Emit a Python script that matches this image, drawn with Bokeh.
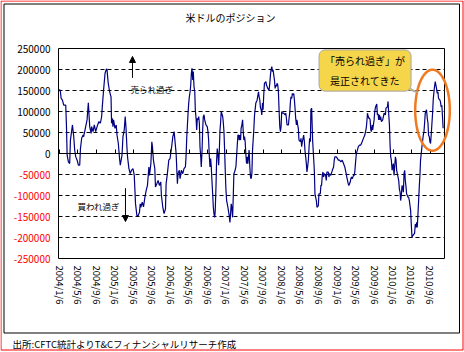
import numpy as np
import pandas as pd
from bokeh.plotting import figure
from bokeh.models import (FixedTicker, Label, Arrow, NormalHead, BoxAnnotation,
                          PolyAnnotation, Range1d, LinearAxis)
from bokeh.embed import file_html
from bokeh.resources import INLINE

# ---------------- data ----------------
start_date = "2004/1/6"
# week number since 2004/1/6
weeks = [0, 0.8, 1.5, 2.7, 3.9, 5.8, 6.5, 7.1, 8.3, 9.5, 10.2, 12.1, 13.3, 14.2, 15.2, 16.5, 17.7, 18.9,
         19.6, 20.8, 22.1, 22.6, 23.9, 25.8, 27.0, 28.3, 29.6, 30.1, 31.4, 32.6, 33.9, 35.7, 37.0, 38.3,
         39.5, 40.1, 41.3, 42.7, 43.9, 44.5, 45.1, 45.7, 47.0, 48.3, 48.8, 49.5, 50.1, 50.7, 52.0, 53.2,
         53.9, 55.1, 55.8, 56.3, 57.0, 58.6, 59.5, 60.7, 61.6, 62.3, 63.2, 63.8, 65.1, 66.3, 67.5, 68.9,
         70.1, 71.3, 72.6, 73.8, 75.0, 75.7, 76.3, 77.6, 78.8, 80.1, 81.3, 82.5, 83.8, 84.4, 85.7, 86.6,
         87.2, 88.1, 89.4, 90.0, 91.3, 92.5, 93.7, 95.0, 95.6, 96.9, 98.1, 99.4, 100.0, 101.2, 102.5,
         103.7, 105.0, 106.3, 107.5, 108.1, 109.4, 110.6, 111.2, 112.4, 113.1, 114.3, 115.6, 116.8,
         118.1, 118.7, 119.4, 120.6, 121.2, 121.8, 122.5, 123.1, 123.7, 124.3, 125.0, 125.5, 126.2,
         126.9, 127.4, 128.1, 128.7, 129.3, 129.9, 130.6, 131.2, 131.8, 132.5, 133.0, 133.7, 134.3,
         134.9, 135.6, 136.2, 137.4, 138.6, 139.3, 139.9, 140.5, 141.2, 141.8, 142.4, 143.0, 143.7,
         144.3, 144.9, 145.6, 146.1, 146.8, 147.4, 148.0, 148.7, 149.3, 149.9, 150.5, 151.2, 151.7,
         153.1, 153.6, 154.3, 154.9, 155.5, 156.1, 156.8, 158.0, 159.2, 159.9, 160.5, 161.1, 161.7,
         162.4, 163.0, 163.6, 164.3, 165.5, 166.7, 167.4, 168.0, 168.6, 169.2, 169.9, 170.4, 171.1,
         171.8, 172.3, 173.0, 173.6, 174.2, 174.8, 175.5, 176.1, 176.7, 177.9, 178.6, 179.2, 179.8,
         180.5, 181.1, 181.7, 182.3, 183.0, 184.2, 185.4, 186.7, 187.3, 187.9, 188.6, 189.2, 189.8,
         190.5, 191.0, 191.7, 192.3, 193.6, 194.2, 195.4, 196.6, 197.3, 197.9, 198.5, 199.2, 199.8,
         200.4, 201.0, 201.7, 202.3, 202.9, 203.5, 204.1, 204.8, 205.4, 206.0, 206.7, 207.3, 207.9,
         208.5, 209.2, 210.4, 211.6, 212.3, 212.9, 213.5, 214.8, 215.4, 216.0, 216.7, 217.2, 217.9,
         218.5, 219.1, 219.8, 220.4, 221.0, 221.6, 222.3, 222.8, 223.5, 224.1, 224.7, 226.0, 226.6,
         227.2, 227.9, 228.5, 229.1, 229.8, 230.3, 231.0, 231.6, 232.2, 232.8, 233.5, 234.1, 234.7,
         235.4, 235.9, 236.6, 237.5, 239.1, 239.7, 241.0, 241.6, 242.9, 243.4, 244.7, 245.3, 245.9,
         246.6, 247.2, 247.8, 248.5, 249.7, 250.3, 250.9, 252.2, 252.8, 253.4, 254.6, 256.0, 257.2,
         257.8, 258.4, 259.7, 260.9, 261.6, 262.8, 264.0, 265.3, 266.5, 267.7, 269.0, 269.6, 270.9,
         271.5, 272.8, 273.4, 274.0, 274.7, 275.9, 276.5, 277.1, 277.7, 278.4, 279.0, 279.6, 280.3,
         281.5, 282.7, 284.0, 285.2, 286.5, 287.8, 288.3, 289.0, 289.7, 290.2, 290.9, 291.5, 292.1,
         292.7, 293.4, 293.9, 295.2, 295.8, 296.5, 297.7, 298.3, 299.0, 299.5, 300.2, 300.9, 301.4,
         302.1, 303.3, 304.6, 305.8, 306.4, 307.7, 308.3, 308.9, 309.6, 310.2, 310.8, 311.4, 312.1,
         312.6, 313.3, 313.9, 314.5, 315.2, 315.8, 316.4, 317.0, 318.3, 318.9, 319.6, 320.1, 320.8,
         321.4, 322.0, 322.7, 323.3, 323.9, 324.5, 325.2, 325.7, 326.4, 327.0, 327.6, 328.3, 328.9,
         329.5, 330.1, 330.8, 331.3, 332.0, 333.2, 333.9, 334.5, 335.1, 335.7, 336.4, 337.0, 337.6,
         338.3, 338.8, 340.1, 341.4, 342.0, 342.6, 343.2, 344.4, 345.1, 345.8, 346.3, 347.0, 347.6,
         348.2, 348.8, 349.5, 350.1, 350.7, 351.4, 351.9, 352.6, 353.2, 353.8, 354.5, 355.1, 355.7,
         357.0, 357.5, 358.2, 358.8, 359.4, 360.0]
positions = [153000, 147000, 131000, 127000, 115000, 115000, 64000, -4000, -20000, -24000, 32000, 68000,
             40000, 8000, -8000, -16000, -28000, -28000, 12000, 37000, 44000, 40000, 56000, 80000, 121000,
             64000, 48000, 64000, 52000, 68000, 52000, 68000, 76000, 72000, 88000, 111000, 151000, 191000,
             201000, 201000, 183000, 167000, 147000, 135000, 72000, 84000, 64000, 80000, 60000, 68000,
             44000, 25000, 4000, -12000, -28000, -4000, 40000, 56000, 88000, 64000, 16000, -8000, -36000,
             -48000, -40000, -36000, -52000, -120000, -148000, -148000, -140000, -120000, -128000,
             -116000, -127000, -104000, -88000, -76000, -32000, -52000, -24000, 28000, 16000, -16000,
             -36000, -80000, -72000, -64000, -76000, -68000, -100000, -128000, -143000, -132000, -72000,
             -48000, -16000, -12000, 12000, 40000, 52000, 36000, 0, -72000, -48000, -40000, -60000,
             -40000, -48000, -36000, -32000, -8000, 40000, 96000, 120000, 135000, 147000, 163000, 191000,
             203000, 175000, 195000, 159000, 147000, 104000, 84000, 56000, 84000, 80000, 88000, 72000,
             16000, -8000, -32000, 4000, 56000, 88000, 92000, 80000, 68000, 64000, 52000, 32000, -4000,
             -32000, -12000, -32000, -64000, -96000, -128000, -143000, -152000, -136000, -80000, -16000,
             12000, -4000, -28000, 4000, 52000, 76000, 100000, 88000, 76000, 52000, 8000, -40000, -84000,
             -112000, -128000, -148000, -164000, -143000, -120000, -128000, -152000, -104000, -48000,
             -44000, -32000, 16000, 44000, 44000, 32000, 44000, 32000, 60000, 68000, 80000, 56000, 32000,
             40000, 28000, 0, -24000, -8000, -24000, 8000, -32000, -56000, -60000, -48000, 8000, 32000,
             56000, 92000, 120000, 127000, 147000, 135000, 128000, 108000, 104000, 92000, 120000, 104000,
             143000, 167000, 171000, 163000, 155000, 151000, 167000, 187000, 199000, 207000, 195000,
             199000, 187000, 175000, 155000, 163000, 160000, 167000, 163000, 147000, 104000, 64000, 52000,
             64000, 100000, 96000, 96000, 92000, 96000, 84000, 68000, 68000, 84000, 96000, 124000, 135000,
             131000, 143000, 139000, 143000, 128000, 108000, 84000, 68000, 80000, 68000, 60000, 32000,
             28000, 36000, 16000, 28000, 36000, 44000, 28000, 8000, -8000, -24000, -44000, -32000,
             -16000, 12000, 36000, 28000, 104000, 108000, 32000, -40000, -96000, -112000, -128000,
             -124000, -96000, -96000, -76000, -76000, -52000, -44000, -56000, -48000, -52000, -64000,
             -44000, -44000, -56000, -48000, -52000, -40000, -32000, -16000, -8000, -8000, -12000,
             -16000, -16000, -20000, -16000, -24000, -32000, -48000, -56000, -72000, -76000, -68000,
             -60000, -56000, -60000, -52000, -52000, -44000, -24000, -4000, 4000, 8000, 16000, 20000,
             20000, 28000, 36000, 44000, 60000, 72000, 96000, 88000, 84000, 84000, 80000, 56000, 52000,
             68000, 56000, 80000, 100000, 110000, 118000, 92000, 94000, 80000, 92000, 80000, 88000,
             76000, 80000, 96000, 92000, 108000, 111000, 124000, 96000, 68000, 20000, -8000, -16000,
             -40000, -32000, -24000, -52000, -32000, -8000, -16000, -40000, -48000, -64000, -84000,
             -92000, -112000, -100000, -76000, -80000, -92000, -48000, -40000, -64000, -80000, -96000,
             -100000, -104000, -104000, -112000, -124000, -136000, -168000, -200000, -196000, -194000,
             -190000, -168000, -176000, -164000, -176000, -143000, -112000, -80000, -48000, -16000,
             16000, 44000, 52000, 72000, 96000, 104000, 84000, 72000, 44000, 40000, 28000, 24000, 44000,
             72000, 96000, 128000, 147000, 159000, 171000, 163000, 155000, 143000, 147000, 131000,
             127000, 123000, 111000, 115000, 88000, 60000]

tick_dates = ["2004/1/6", "2004/5/6", "2004/9/6", "2005/1/6", "2005/5/6", "2005/9/6", "2006/1/6",
              "2006/5/6", "2006/9/6", "2007/1/6", "2007/5/6", "2007/9/6", "2008/1/6", "2008/5/6",
              "2008/9/6", "2009/1/6", "2009/5/6", "2009/9/6", "2010/1/6", "2010/5/6", "2010/9/6"]
y_ticks = [-250000, -200000, -150000, -100000, -50000, 0, 50000, 100000, 150000, 200000, 250000]

title_text = "米ドルのポジション"
source_text = "出所:CFTC統計よりT&Cフィナンシャルリサーチ作成"
oversold_text = "売られ過ぎ"
overbought_text = "買われ過ぎ"
callout_text = "「売られ過ぎ」が\n是正されてきた"

FONT = "Noto Sans CJK JP"

# ---------------- derived ----------------
start = pd.to_datetime(start_date, format="%Y/%m/%d")
x_days = np.array(weeks) * 7
tick_days = [int((pd.to_datetime(d, format="%Y/%m/%d") - start).days) for d in tick_dates]

# layout: canvas and plotting area (pixels)
W, H = 464, 352
FL, FR, FT, FB = 58, 444, 48, 258
X0, X1 = -7, 2529
Y0, Y1 = y_ticks[0], y_ticks[-1]
dx = (X1 - X0) / (FR - FL)
dy = (Y1 - Y0) / (FB - FT)

p = figure(width=W, height=H, output_backend="svg", toolbar_location=None,
           x_range=Range1d(X0 - FL * dx, X1 + (W - FR) * dx),
           y_range=Range1d(Y0 - (H - FB) * dy, Y1 + FT * dy),
           x_axis_location=None, y_axis_location=None, min_border=0,
           background_fill_color="white", border_fill_color="white")
p.outline_line_color = None
p.grid.visible = False
p.title.visible = False


def style_axis(ax):
    ax.major_tick_in = 0
    ax.major_tick_out = 0
    ax.minor_tick_in = 0
    ax.minor_tick_out = 0
    ax.major_label_text_font = FONT


# x labels (bottom of the plotting area)
xa = LinearAxis(fixed_location=Y0, ticker=FixedTicker(ticks=tick_days), bounds=(X0, X1),
                major_label_overrides={d: t for d, t in zip(tick_days, tick_dates)})
style_axis(xa)
xa.major_label_orientation = "vertical"
xa.axis_line_color = None
xa.major_label_standoff = 7
xa.major_label_text_font_size = "9.5px"
xa.major_label_text_color = "black"
p.add_layout(xa, "below")

# category axis line at zero with inside ticks
za = LinearAxis(fixed_location=0, ticker=FixedTicker(ticks=tick_days), bounds=(X0, X1),
                major_label_overrides={d: "" for d in tick_days})
style_axis(za)
za.major_tick_in = 4
za.axis_line_color = "black"
za.major_tick_line_color = "black"
p.add_layout(za, "below")

# y labels: non-negative in black, negative in red
pos_ticks = [v for v in y_ticks if v >= 0]
neg_ticks = [v for v in y_ticks if v < 0]
for ticks, color in ((pos_ticks, "black"), (neg_ticks, "#FF0000")):
    ya = LinearAxis(fixed_location=X0, ticker=FixedTicker(ticks=ticks), bounds=(Y0, Y1),
                    major_label_overrides={v: str(v) for v in ticks})
    style_axis(ya)
    ya.axis_line_color = None
    ya.major_label_standoff = 8
    ya.major_label_text_font_size = "10px"
    ya.major_label_text_color = color
    p.add_layout(ya, "left")

# dashed grid lines
grid_vals = [v for v in y_ticks if v not in (0, Y0, Y1)]
p.segment(x0=[X0] * len(grid_vals), x1=[X1] * len(grid_vals), y0=grid_vals, y1=grid_vals,
          line_color="black", line_width=1, line_dash="4 3")

# plotting-area frame
p.add_layout(BoxAnnotation(left=X0, right=X1, bottom=Y0, top=Y1, fill_color=None,
                           line_color="black", line_alpha=1, line_width=1))

# series
p.line(x_days, positions, line_color="#000080", line_width=1.2)

# outer frames (screen units, canvas bottom-left origin)
p.add_layout(BoxAnnotation(left=0.5, right=462.5, top=351.5, bottom=2.5,
                           left_units="screen", right_units="screen", top_units="screen",
                           bottom_units="screen", fill_color=None, line_color="#FF0000",
                           line_alpha=1, line_width=1))
p.add_layout(BoxAnnotation(left=3.5, right=459, top=348.5, bottom=19.5,
                           left_units="screen", right_units="screen", top_units="screen",
                           bottom_units="screen", fill_color=None, line_color="black",
                           line_alpha=1, line_width=1))

# title & source
p.add_layout(Label(x=230, y=335, x_units="screen", y_units="screen", text=title_text,
                   text_align="center", text_baseline="middle", text_font=FONT,
                   text_font_size="10px", text_color="black"))
p.add_layout(Label(x=12, y=9, x_units="screen", y_units="screen", text=source_text,
                   text_align="left", text_baseline="middle", text_font=FONT,
                   text_font_size="9.5px", text_color="black"))

# arrows & notes
p.add_layout(Arrow(x_start=479, y_start=180000, x_end=479, y_end=231000,
                   line_color="black", line_width=1,
                   end=NormalHead(size=6, fill_color="black", line_color="black")))
p.add_layout(Arrow(x_start=433, y_start=-82600, x_end=433, y_end=-162000,
                   line_color="black", line_width=1,
                   end=NormalHead(size=6, fill_color="black", line_color="black")))
p.add_layout(Label(x=466, y=153600, text=oversold_text, text_align="left", text_baseline="middle",
                   text_font=FONT, text_font_size="8.5px", text_color="black"))
p.add_layout(Label(x=118, y=-125000, text=overbought_text, text_align="left", text_baseline="middle",
                   text_font=FONT, text_font_size="8.5px", text_color="black"))

# ellipse highlight (screen units)
t = np.linspace(0, 2 * np.pi, 90)
p.add_layout(PolyAnnotation(xs=list(432 + 17.3 * np.cos(t)), ys=list(242.3 + 40.5 * np.sin(t)),
                            xs_units="screen", ys_units="screen", fill_color=None,
                            line_color="#F07A22", line_alpha=1, line_width=2.5))

# callout pointer + box
p.add_layout(PolyAnnotation(xs=[2187, 2266, 2352], ys=[164000, 164000, 145000],
                            fill_color="#F5D54A", fill_alpha=1, line_color="#A6A6A6",
                            line_alpha=1, line_width=1))
p.add_layout(Label(x=2007, y=197600, text=callout_text, text_align="center", text_baseline="middle",
                   text_font=FONT, text_font_size="10px", text_color="black",
                   text_line_height=1.35,
                   background_fill_color="#F5D54A", background_fill_alpha=1,
                   border_line_color="#A6A6A6", border_line_width=1, border_radius=6,
                   padding=dict(left=6, right=6, top=3, bottom=3)))

open("out.html", "w").write(file_html(p, INLINE))
